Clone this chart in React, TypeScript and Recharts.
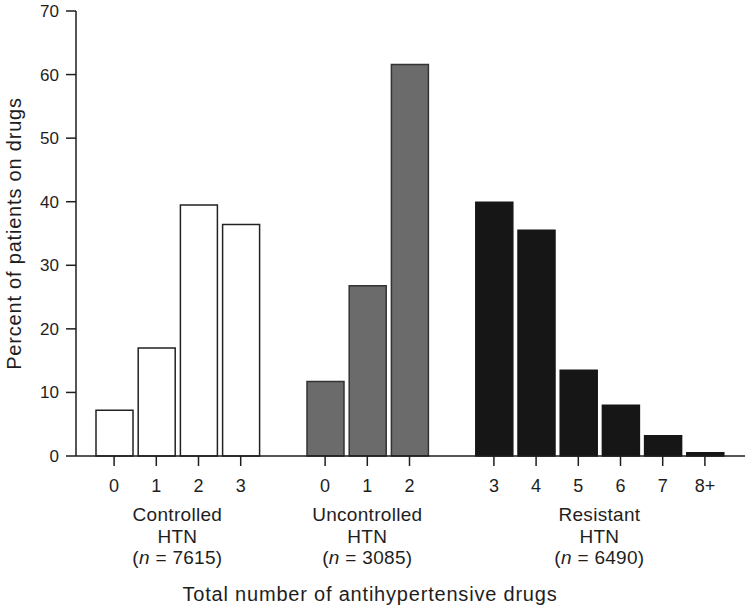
import React from "react"
import { BarChart, Bar, Cell, XAxis, YAxis } from "recharts"

// drug counts and percent of patients, per hypertension group
const controlledDrugs = ["0", "1", "2", "3"]
const controlledPct = [7.2, 17.0, 39.5, 36.4]
const uncontrolledDrugs = ["0", "1", "2"]
const uncontrolledPct = [11.7, 26.8, 61.6]
const resistantDrugs = ["3", "4", "5", "6", "7", "8+"]
const resistantPct = [39.9, 35.5, 13.5, 8.0, 3.2, 0.5]

const groupNames = ["Controlled", "Uncontrolled", "Resistant"]
const groupN = [7615, 3085, 6490]
const yTicks = [0, 10, 20, 30, 40, 50, 60, 70]

const FILLS = ["#ffffff", "#6b6b6b", "#161616"]
const STROKES = ["#222222", "#333333", "#161616"]
const INK = "#1e1e1e"
const FONT = "'Liberation Sans', Arial, Helvetica, sans-serif"

type Row = {
  key: string
  label: string
  pct: number | null
  group: number
  pos: number
  count: number
  spacer?: boolean
}

const groups = [
  { drugs: controlledDrugs, pct: controlledPct },
  { drugs: uncontrolledDrugs, pct: uncontrolledPct },
  { drugs: resistantDrugs, pct: resistantPct },
]

const data: Row[] = []
groups.forEach((g, gi) => {
  if (gi > 0) data.push({ key: `gap${gi}`, label: "", pct: null, group: gi, pos: -1, count: 0, spacer: true })
  g.drugs.forEach((d, i) =>
    data.push({ key: `g${gi}-${d}`, label: d, pct: g.pct[i], group: gi, pos: i, count: g.drugs.length })
  )
})

const DrugTick = (props: any) => {
  const { x, y, payload } = props
  const row = data.find((r) => r.key === payload.value)
  if (!row || row.spacer) return null
  const half = payload.offset ? payload.offset : 21
  const showGroup = row.pos === Math.floor((row.count - 1) / 2)
  const gx = x + (row.count % 2 === 0 ? half : 0)
  return (
    <g>
      <line x1={x} x2={x} y1={y} y2={y + 10} stroke={INK} strokeWidth={1.5} />
      <text x={x} y={y + 36} textAnchor="middle" fontSize={18} fill={INK} fontFamily={FONT}>
        {row.label}
      </text>
      {showGroup && (
        <text textAnchor="middle" fontSize={19} fill={INK} fontFamily={FONT} letterSpacing={0.3}>
          <tspan x={gx} y={y + 65}>{groupNames[row.group]}</tspan>
          <tspan x={gx} y={y + 87}>HTN</tspan>
          <tspan x={gx} y={y + 108}>
            (<tspan fontStyle="italic">n</tspan> = {groupN[row.group]})
          </tspan>
        </text>
      )}
    </g>
  )
}

export default function App() {
  return (
    <div style={{ position: "absolute", left: 0, top: 0, width: 750, height: 610, background: "#fff" }}>
      <BarChart width={750} height={610} data={data} margin={{ top: 11, right: 5, left: 0, bottom: 0 }}>
        <XAxis
          dataKey="key"
          height={154}
          interval={0}
          tick={<DrugTick />}
          tickLine={false}
          tickSize={0}
          tickMargin={0}
          padding={{ left: 17, right: 19 }}
          axisLine={{ stroke: INK, strokeWidth: 1.5 }}
          label={{
            content: () => (
              <text x={370} y={601} textAnchor="middle" fontSize={20} letterSpacing={0.8} fill={INK} fontFamily={FONT}>
                Total number of antihypertensive drugs
              </text>
            ),
          }}
        />
        <YAxis
          width={76}
          domain={[0, 70]}
          ticks={yTicks}
          interval={0}
          tickSize={10}
          tickMargin={7}
          tick={{ fontSize: 17, fill: INK, fontFamily: FONT }}
          tickLine={{ stroke: INK, strokeWidth: 1.5 }}
          axisLine={{ stroke: INK, strokeWidth: 1.5 }}
          label={{
            content: (p: any) => {
              const cy = p.viewBox ? p.viewBox.y + p.viewBox.height / 2 : 233
              return (
                <text
                  x={14}
                  y={cy}
                  transform={`rotate(-90 14 ${cy})`}
                  textAnchor="middle"
                  dominantBaseline="central"
                  fontSize={20}
                  letterSpacing={0.8}
                  fill={INK}
                  fontFamily={FONT}
                >
                  Percent of patients on drugs
                </text>
              )
            },
          }}
        />
        <Bar dataKey="pct" barSize={37} isAnimationActive={false} strokeWidth={1.5}>
          {data.map((r) => (
            <Cell key={r.key} fill={FILLS[r.group]} stroke={STROKES[r.group]} />
          ))}
        </Bar>
      </BarChart>
    </div>
  )
}
